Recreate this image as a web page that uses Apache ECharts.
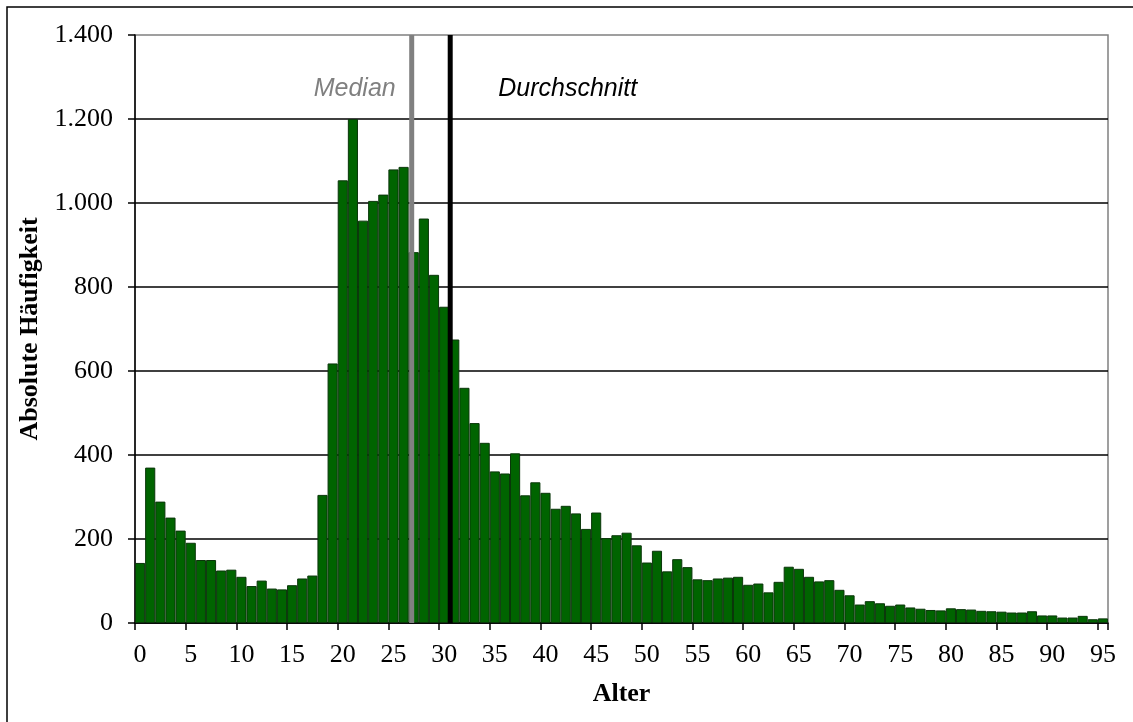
<!DOCTYPE html>
<html>
<head>
<meta charset="utf-8">
<script src="https://cdn.jsdelivr.net/npm/echarts@6/dist/echarts.min.js"></script>
<style>
html,body{margin:0;padding:0;background:#fff;}
#chart{width:1133px;height:722px;}
</style>
</head>
<body>
<div id="chart"></div>
<script>
var ages = ['0','1','2','3','4','5','6','7','8','9','10','11','12','13','14','15','16','17','18','19',
  '20','21','22','23','24','25','26','27','28','29','30','31','32','33','34','35','36','37','38','39',
  '40','41','42','43','44','45','46','47','48','49','50','51','52','53','54','55','56','57','58','59',
  '60','61','62','63','64','65','66','67','68','69','70','71','72','73','74','75','76','77','78','79',
  '80','81','82','83','84','85','86','87','88','89','90','91','92','93','94','95'];
var counts = [143,370,289,251,220,191,150,150,125,127,110,88,101,82,80,90,106,113,305,618,
  1054,1200,958,1005,1020,1080,1086,883,963,829,753,675,560,476,429,361,356,404,304,335,
  310,272,279,261,224,263,202,209,215,185,144,172,123,152,133,104,102,106,108,110,
  91,94,73,98,134,129,110,99,102,79,66,44,52,47,41,44,37,34,31,30,
  35,33,32,29,28,27,25,25,28,18,18,13,13,17,9,11];
var yTicks = [0,200,400,600,800,1000,1200,1400];
var medianAge = 27.3;
var meanAge = 31.1;
var medianLabel = 'Median';
var meanLabel = 'Durchschnitt';
var labelLevel = 1272;

function fmtDe(v){ return String(v).replace(/\B(?=(\d{3})+(?!\d))/g, '.'); }

var serif = '"Liberation Serif","Times New Roman",serif';
var sans = '"Liberation Sans",Arial,sans-serif';

var chart = echarts.init(document.getElementById('chart'), null, {renderer:'canvas'});
chart.setOption({
  animation:false,
  backgroundColor:'#fff',
  graphic:[{type:'rect', shape:{x:7,y:7,width:1200,height:800}, style:{fill:'none', stroke:'#000', lineWidth:1.5}, z:-10}],
  grid:{left:135, right:25, top:35, bottom:99, show:true, borderColor:'#808080', borderWidth:1.5, backgroundColor:'transparent'},
  xAxis:[{
    type:'category', data:ages, boundaryGap:true,
    name:'Alter', nameLocation:'middle', nameGap:58,
    nameTextStyle:{fontFamily:serif, fontSize:26, fontWeight:'bold', color:'#000'},
    axisLine:{lineStyle:{color:'#000', width:1.5}},
    axisTick:{show:true, interval:4, length:7, alignWithLabel:false, lineStyle:{color:'#000', width:1.5}},
    axisLabel:{interval:4, margin:19, fontFamily:serif, fontSize:26, color:'#000'},
    splitLine:{show:false}
  },{
    type:'value', min:0, max:96, show:false
  }],
  yAxis:{
    type:'value', min:0, max:1400, interval:200,
    name:'Absolute Häufigkeit', nameLocation:'middle', nameRotate:90, nameGap:90,
    nameTextStyle:{fontFamily:serif, fontSize:26, fontWeight:'bold', color:'#000'},
    axisLine:{show:true, lineStyle:{color:'#000', width:1.5}},
    axisTick:{show:true, length:7, lineStyle:{color:'#000', width:1.5}},
    axisLabel:{margin:22, fontFamily:serif, fontSize:26, color:'#000', formatter:function(v){return fmtDe(v);}},
    splitLine:{show:true, showMaxLine:false, lineStyle:{color:'#000', width:1.5}}
  },
  series:[{
    type:'bar', data:counts, xAxisIndex:0, barCategoryGap:'0%',
    itemStyle:{color:'#006400', borderColor:'#0a360a', borderWidth:1}
  },{
    type:'line', xAxisIndex:1, data:[[medianAge,0],[medianAge,1400]], symbol:'none',
    lineStyle:{color:'#808080', width:5, opacity:1}, silent:true
  },{
    type:'line', xAxisIndex:1, data:[[meanAge,0],[meanAge,1400]], symbol:'none',
    lineStyle:{color:'#000', width:5, opacity:1}, silent:true
  },{
    type:'scatter', xAxisIndex:1, symbolSize:0, silent:true,
    itemStyle:{opacity:1},
    data:[[medianAge,labelLevel]],
    label:{show:true, position:'left', distance:16, formatter:medianLabel, opacity:1,
      fontFamily:sans, fontStyle:'italic', fontSize:25, color:'#808080'}
  },{
    type:'scatter', xAxisIndex:1, symbolSize:0, silent:true,
    itemStyle:{opacity:1},
    data:[[meanAge,labelLevel]],
    label:{show:true, position:'right', distance:48, formatter:meanLabel, opacity:1,
      fontFamily:sans, fontStyle:'italic', fontSize:25, color:'#000'}
  }]
});
</script>
</body>
</html>
